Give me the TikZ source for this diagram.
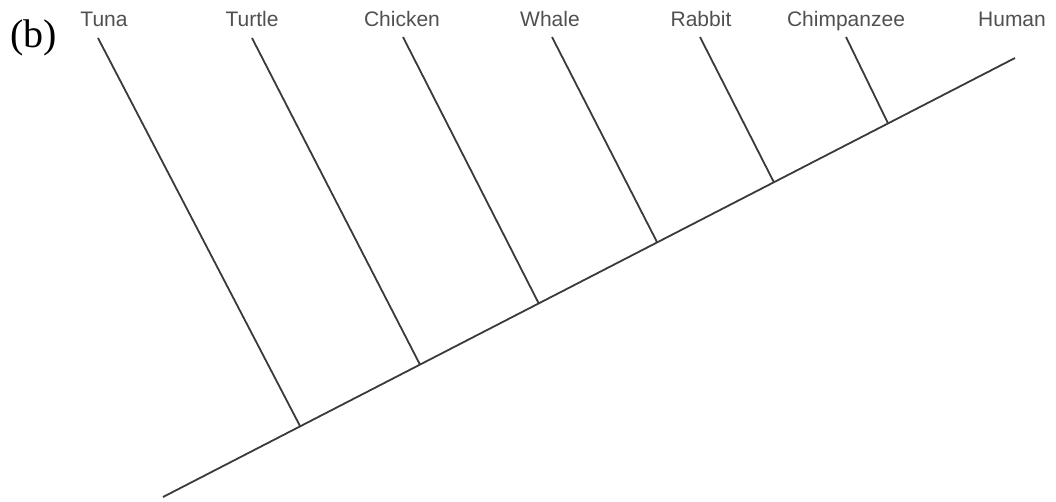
\documentclass[tikz,border=0pt]{standalone}
\usepackage{fontspec}
\setmainfont{Liberation Serif}
\newfontfamily\labelfont{Liberation Sans}
\usetikzlibrary{calc}
\definecolor{linegray}{HTML}{3A3A3A}
\definecolor{textgray}{HTML}{505050}
\begin{document}
\begin{tikzpicture}[x=1pt,y=-1pt,
  branch/.style={draw=linegray,line width=1.8pt},
  taxon/.style={anchor=base,inner sep=0pt,text=textgray,font=\labelfont\fontsize{21}{24}\selectfont},
  panel/.style={anchor=base west,inner sep=0pt,font=\fontsize{40}{46}\selectfont}]
\useasboundingbox (0,0) rectangle (1056,501);
\node[panel] (b) at (10,47) {(b)};
% main axis
\coordinate (root) at (163,497);
\coordinate (hend) at (1015,58);
\coordinate (jtuna) at ($(root)!0.161!(hend)$);
\coordinate (jturtle) at ($(root)!0.3016!(hend)$);
\coordinate (jchicken) at ($(root)!0.441!(hend)$);
\coordinate (jwhale) at ($(root)!0.580!(hend)$);
\coordinate (jrabbit) at ($(root)!0.717!(hend)$);
\coordinate (jchimp) at ($(root)!0.851!(hend)$);
% branch tips
\coordinate (ttuna) at (98,38);
\coordinate (tturtle) at (252,38);
\coordinate (tchicken) at (403,37);
\coordinate (twhale) at (552,37);
\coordinate (trabbit) at (700,37);
\coordinate (tchimp) at (846,37);
% labels
\node[taxon] (ltuna) at (104,26) {Tuna};
\node[taxon] (lturtle) at (252,26) {Turtle};
\node[taxon] (lchicken) at (402,26) {Chicken};
\node[taxon] (lwhale) at (550,26) {Whale};
\node[taxon] (lrabbit) at (701,26) {Rabbit};
\node[taxon] (lchimp) at (846,26) {Chimpanzee};
\node[taxon] (lhuman) at (1012,26) {Human};
% lines
\draw[branch] (root) -- (hend);
\draw[branch] (ttuna) -- (jtuna);
\draw[branch] (tturtle) -- (jturtle);
\draw[branch] (tchicken) -- (jchicken);
\draw[branch] (twhale) -- (jwhale);
\draw[branch] (trabbit) -- (jrabbit);
\draw[branch] (tchimp) -- (jchimp);
\end{tikzpicture}
\end{document}
